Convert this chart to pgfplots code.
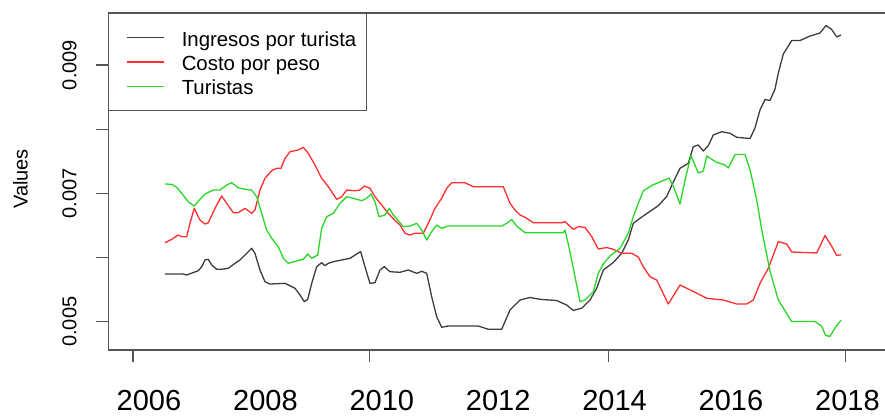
\documentclass[border=0pt]{standalone}
\usepackage{pgfplots}
\pgfplotsset{compat=1.18}
\usepackage{fontspec}
\setmainfont{Liberation Sans}
\definecolor{rline}{RGB}{255,45,45}
\definecolor{gline}{RGB}{40,215,40}
\definecolor{kline}{RGB}{60,60,60}
\definecolor{axgray}{RGB}{85,85,85}

\pgfplotstableread{
x y
2006.275 0.005743
2006.589 0.005743
2006.648 0.005728
2006.847 0.005795
2006.906 0.005857
2006.962 0.005962
2007.019 0.005972
2007.077 0.005884
2007.163 0.005817
2007.249 0.005817
2007.363 0.005832
2007.478 0.005910
2007.564 0.005962
2007.650 0.006039
2007.765 0.006144
2007.821 0.006066
2007.907 0.005806
2007.993 0.005623
2008.079 0.005587
2008.337 0.005598
2008.509 0.005520
2008.595 0.005416
2008.668 0.005312
2008.727 0.005349
2008.796 0.005598
2008.881 0.005857
2008.967 0.005919
2009.024 0.005873
2009.081 0.005910
2009.167 0.005935
2009.311 0.005962
2009.454 0.005988
2009.569 0.006055
2009.637 0.006091
2009.711 0.005857
2009.797 0.005598
2009.883 0.005608
2009.969 0.005806
2010.043 0.005857
2010.141 0.005779
2010.313 0.005770
2010.455 0.005806
2010.600 0.005754
2010.686 0.005785
2010.772 0.005754
2010.857 0.005390
2010.943 0.005078
2011.029 0.004913
2011.143 0.004933
2011.658 0.004933
2011.830 0.004882
2012.060 0.004882
2012.203 0.005182
2012.375 0.005338
2012.546 0.005377
2012.718 0.005349
2013.005 0.005330
2013.177 0.005260
2013.290 0.005175
2013.440 0.005213
2013.577 0.005338
2013.692 0.005520
2013.806 0.005806
2013.978 0.005923
2014.122 0.006066
2014.235 0.006273
2014.321 0.006533
2014.436 0.006611
2014.608 0.006720
2014.751 0.006808
2014.895 0.006951
2015.009 0.007177
2015.124 0.007391
2015.266 0.007468
2015.352 0.007727
2015.438 0.007754
2015.524 0.007660
2015.610 0.007743
2015.696 0.007910
2015.840 0.007961
2015.983 0.007936
2016.098 0.007874
2016.327 0.007855
2016.412 0.008019
2016.498 0.008299
2016.584 0.008463
2016.670 0.008447
2016.756 0.008626
2016.813 0.008876
2016.899 0.009172
2017.043 0.009382
2017.186 0.009382
2017.357 0.009452
2017.529 0.009499
2017.632 0.009616
2017.730 0.009554
2017.816 0.009437
2017.890 0.009468
}\ingresos

\pgfplotstableread{
x y
2006.275 0.006231
2006.390 0.006284
2006.503 0.006351
2006.562 0.006325
2006.648 0.006325
2006.704 0.006533
2006.778 0.006767
2006.876 0.006585
2006.962 0.006522
2007.019 0.006543
2007.134 0.006767
2007.249 0.006959
2007.335 0.006845
2007.448 0.006699
2007.534 0.006699
2007.650 0.006767
2007.765 0.006689
2007.821 0.006741
2007.907 0.007052
2007.993 0.007235
2008.108 0.007353
2008.194 0.007391
2008.268 0.007391
2008.337 0.007546
2008.423 0.007649
2008.565 0.007676
2008.651 0.007718
2008.737 0.007624
2008.852 0.007442
2008.967 0.007235
2009.081 0.007104
2009.225 0.006907
2009.311 0.006948
2009.397 0.007052
2009.540 0.007041
2009.625 0.007052
2009.699 0.007115
2009.797 0.007079
2009.883 0.006948
2009.998 0.006819
2010.112 0.006689
2010.227 0.006577
2010.313 0.006507
2010.399 0.006378
2010.485 0.006351
2010.570 0.006378
2010.713 0.006378
2010.799 0.006533
2010.914 0.006767
2011.029 0.006923
2011.115 0.007079
2011.201 0.007166
2011.430 0.007166
2011.572 0.007104
2012.088 0.007104
2012.203 0.006845
2012.289 0.006741
2012.375 0.006663
2012.461 0.006627
2012.603 0.006543
2013.091 0.006543
2013.148 0.006559
2013.290 0.006440
2013.376 0.006480
2013.491 0.006471
2013.607 0.006325
2013.720 0.006133
2013.864 0.006156
2013.978 0.006128
2014.122 0.006066
2014.294 0.006066
2014.407 0.006008
2014.493 0.005857
2014.608 0.005701
2014.723 0.005650
2014.923 0.005276
2015.124 0.005572
2015.352 0.005471
2015.583 0.005365
2015.868 0.005338
2016.098 0.005276
2016.270 0.005276
2016.383 0.005338
2016.498 0.005598
2016.641 0.005832
2016.813 0.006247
2016.957 0.006211
2017.043 0.006086
2017.473 0.006071
2017.615 0.006343
2017.730 0.006175
2017.816 0.006032
2017.890 0.006044
}\costo

\pgfplotstableread{
x y
2006.275 0.007146
2006.390 0.007141
2006.476 0.007094
2006.562 0.007001
2006.675 0.006870
2006.778 0.006803
2006.876 0.006907
2006.962 0.006990
2007.105 0.007052
2007.220 0.007052
2007.335 0.007130
2007.421 0.007166
2007.534 0.007088
2007.650 0.007063
2007.765 0.007052
2007.851 0.006948
2007.936 0.006689
2008.022 0.006429
2008.108 0.006300
2008.222 0.006169
2008.308 0.005988
2008.394 0.005910
2008.538 0.005946
2008.651 0.005972
2008.727 0.006055
2008.796 0.005988
2008.899 0.006039
2008.967 0.006456
2009.053 0.006636
2009.167 0.006689
2009.282 0.006845
2009.397 0.006948
2009.510 0.006923
2009.655 0.006886
2009.741 0.006923
2009.814 0.006990
2009.883 0.006870
2009.952 0.006636
2010.055 0.006663
2010.129 0.006767
2010.198 0.006663
2010.284 0.006574
2010.370 0.006480
2010.485 0.006491
2010.600 0.006533
2010.686 0.006429
2010.772 0.006273
2010.857 0.006403
2010.943 0.006507
2011.029 0.006456
2011.143 0.006491
2012.060 0.006491
2012.146 0.006533
2012.232 0.006593
2012.318 0.006491
2012.461 0.006387
2013.119 0.006387
2013.148 0.006429
2013.208 0.006195
2013.290 0.005837
2013.406 0.005312
2013.491 0.005338
2013.634 0.005467
2013.720 0.005754
2013.806 0.005899
2013.921 0.006024
2014.093 0.006144
2014.235 0.006378
2014.321 0.006636
2014.407 0.006845
2014.493 0.007037
2014.637 0.007123
2014.935 0.007239
2015.009 0.007110
2015.124 0.006834
2015.210 0.007208
2015.313 0.007590
2015.438 0.007317
2015.524 0.007348
2015.583 0.007582
2015.742 0.007489
2015.897 0.007442
2015.954 0.007395
2016.069 0.007606
2016.241 0.007606
2016.327 0.007369
2016.442 0.006897
2016.528 0.006434
2016.670 0.005790
2016.813 0.005338
2017.043 0.005003
2017.443 0.005003
2017.558 0.004928
2017.627 0.004785
2017.701 0.004772
2017.787 0.004902
2017.890 0.005022
}\turistas

\begin{document}
\begin{tikzpicture}
\begin{axis}[
  scale only axis, width=776.7pt, height=337pt,
  xmin=2005.301, xmax=2018.646, ymin=0.004559, ymax=0.009811,
  scaled x ticks=false, scaled y ticks=false,
  axis x line*=bottom, axis y line*=left,
  axis line style={axgray, line width=1.1pt, -},
  tick style={axgray, line width=1.1pt},
  tick align=outside, major tick length=12pt,
  xtick={2005.725,2009.785,2013.892,2017.964}, xticklabels={},
  extra x ticks={2006,2008,2010,2012,2014,2016,2018},
  extra x tick labels={2006,2008,2010,2012,2014,2016,2018},
  extra x tick style={major tick length=0pt,
    xticklabel style={font=\fontsize{29}{29}\selectfont, anchor=base, inner sep=0pt, yshift=-60.8pt}},
  ytick={0.005,0.006,0.007,0.008,0.009},
  yticklabels={0.005,,0.007,,0.009},
  yticklabel style={rotate=90, anchor=south, inner sep=0pt, font=\fontsize{20}{20}\selectfont, yshift=19.6pt},
  ylabel={Values},
  ylabel style={at={(rel axis cs:0,0.5074)}, anchor=south, inner sep=0pt, yshift=80.3pt, font=\fontsize{20}{20}\selectfont},
  legend cell align=left,
  legend style={at={(rel axis cs:0,1)}, anchor=north west, draw=axgray, line width=1.1pt, fill=white,
    inner xsep=17pt, inner ysep=12.2pt, font=\fontsize{20.4}{20.4}\selectfont, row sep=0pt, column sep=15pt,
    nodes={inner xsep=2pt, inner ysep=0pt, text height=20.5pt, text depth=3.7pt}},
  legend image code/.code={\draw[#1] (0pt,0pt) -- (37.6pt,0pt);},
]
\addplot[kline, line width=1.3pt, mark=none, line join=round] table[x=x, y=y] {\ingresos};
\addlegendentry{Ingresos por turista\kern-9.2pt\relax}
\addplot[rline, line width=1.3pt, mark=none, line join=round] table[x=x, y=y] {\costo};
\addlegendentry{Costo por peso}
\addplot[gline, line width=1.3pt, mark=none, line join=round] table[x=x, y=y] {\turistas};
\addlegendentry{Turistas}
\coordinate (BL) at (rel axis cs:0,0);
\coordinate (TL) at (rel axis cs:0,1);
\coordinate (TR) at (rel axis cs:1,1);
\end{axis}
\draw[axgray, line width=1.1pt] (TL) -- (TR);
\pgfresetboundingbox
\path[use as bounding box] ([shift={(-108.3pt,-67pt)}]BL) rectangle ([shift={(0pt,13pt)}]TR);
\end{tikzpicture}
\end{document}
